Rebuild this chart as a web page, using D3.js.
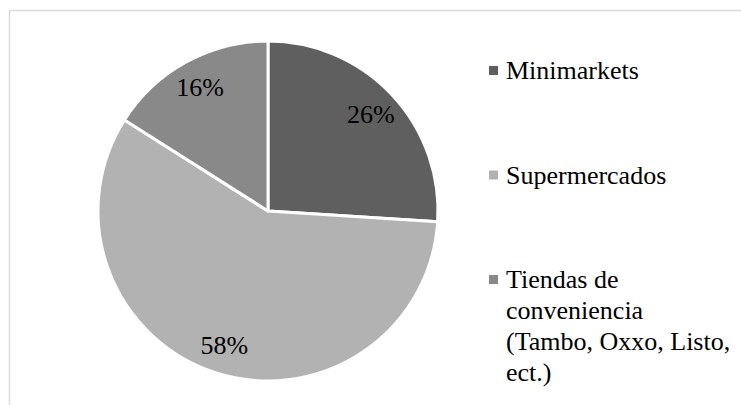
<!DOCTYPE html>
<html><head><meta charset="utf-8">
<script src="https://cdn.jsdelivr.net/npm/d3@7"></script>
</head><body style="margin:0">
<svg id="c" width="741" height="405" font-family="Times New Roman"></svg>
<script>
const categories = ["Minimarkets", "Supermercados", "Tiendas de conveniencia (Tambo, Oxxo, Listo, ect.)"];
const values = [26, 58, 16];
const labels = ["26%", "58%", "16%"];
const legendLines = [["Minimarkets"], ["Supermercados"], ["Tiendas de", "conveniencia", "(Tambo, Oxxo, Listo,", "ect.)"]];
const colors = ["#5f5f5f", "#b2b2b2", "#898989"];

const svg = d3.select("#c");

// frame
svg.append("path").attr("d", "M9.5,420 V10.5 H760").attr("fill", "none").attr("stroke", "#d9d9d9").attr("stroke-width", 1.5);

const cx = 268, cy = 211, R = 170;
const pie = d3.pie().sort(null).value(d => d)(values);
const arc = d3.arc().innerRadius(0).outerRadius(R);
const labelArc = d3.arc().innerRadius(R * 0.83).outerRadius(R * 0.83);

pie.forEach((d, i) => {
  svg.append("path").attr("transform", `translate(${cx},${cy})`)
    .attr("d", arc(d)).attr("fill", colors[i])
    .attr("stroke", "#fff").attr("stroke-width", 3).attr("stroke-linejoin", "round");
});

pie.forEach((d, i) => {
  const [lx, ly0] = labelArc.centroid(d);
  svg.append("text").attr("x", cx + lx).attr("y", cy + ly0 + 9)
    .attr("text-anchor", "middle")
    .attr("font-family", "Times New Roman").attr("font-size", 26)
    .text(labels[i]);
});

// legend
const ly = d3.scalePoint().domain(d3.range(categories.length)).range([79, 288]);
categories.forEach((c, i) => {
  const y0 = ly(i);
  svg.append("rect").attr("x", 489).attr("y", y0 - 13).attr("width", 9).attr("height", 9).attr("fill", colors[i]);
  legendLines[i].forEach((ln, j) => {
    svg.append("text").attr("x", 506).attr("y", y0 + j * 31)
      .attr("font-family", "Times New Roman").attr("font-size", 26)
      .text(ln);
  });
});
</script>
</body></html>
